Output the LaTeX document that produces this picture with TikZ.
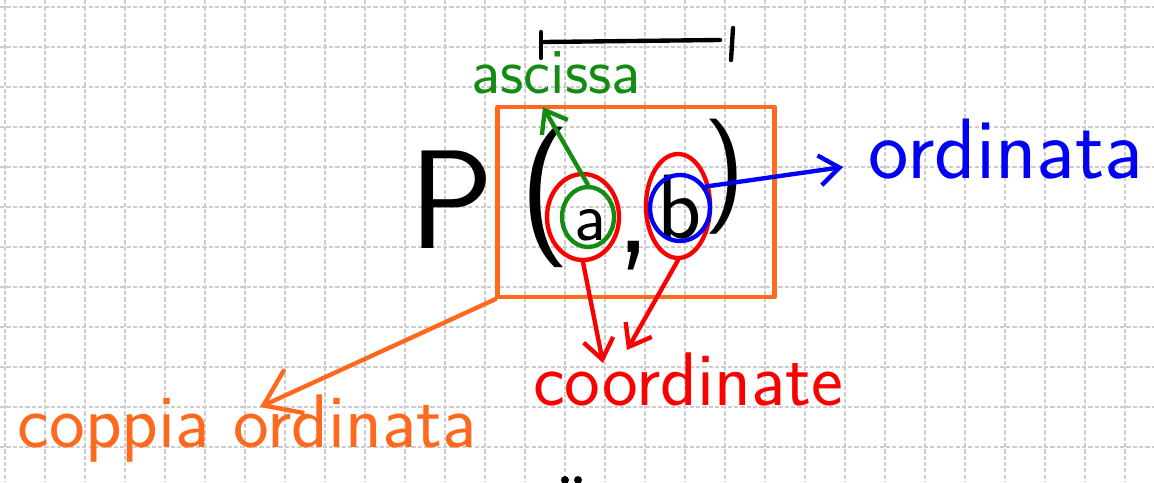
\documentclass[tikz,border=0pt]{standalone}
\usepackage{fontspec}
\usepackage{tikz}
\usetikzlibrary{arrows.meta, shapes.geometric}

\definecolor{penorange}{RGB}{255,105,30}
\definecolor{penred}{RGB}{250,0,0}
\definecolor{pengreen}{RGB}{20,140,20}
\definecolor{penblue}{RGB}{0,0,245}
\definecolor{gridgray}{RGB}{205,205,205}

\begin{document}
\begin{tikzpicture}[x=0.025cm, y=-0.025cm,
		gridline/.style={gridgray, line width=1.4pt, dash pattern=on 3pt off 1.5pt},
		pen/.style={line width=3.1pt, line cap=round, line join=round},
		ring/.style={pen, ellipse, draw, inner sep=0pt},
		label/.style={anchor=base, inner sep=0pt, font=\sffamily},
		tip/.style={-{Straight Barb[length=0.5cm, width=0.75cm]}}]
			% Foglio a quadretti
			\fill[white] (0,0) rectangle (1154,482);
			\useasboundingbox (0,0) rectangle (1154,482);
			\foreach \gx in {5,45,...,1125}
				\draw[gridline] (\gx,0) -- (\gx,482);
			\foreach \gy in {7,47,...,447}
				\draw[gridline] (0,\gy) -- (1154,\gy);

			% Punti di arrivo delle frecce
			\coordinate (asctip) at (543, 107);   % sotto ascissa
			\coordinate (ordtip) at (843, 167);   % verso ordinata
			\coordinate (cootipa) at (603, 363);  % prima freccia rossa
			\coordinate (cootipb) at (627, 350);  % seconda freccia rossa
			\coordinate (coptip) at (260, 407);   % verso coppia ordinata

			% Il punto P(a,b)
			\node[label, font=\sffamily\fontsize{100}{100}\selectfont] (P) at (452, 248) {P};
			\node[inner sep=0pt, font=\sffamily\fontsize{100}{100}\selectfont] (lpar) at (545, 197) {(};
			\node[inner sep=0pt, font=\sffamily\fontsize{82}{82}\selectfont] (rpar) at (725, 177) {)};
			\node[label, font=\sffamily\fontsize{50}{50}\selectfont] (a) at (590, 240) {a};
			\node[label, font=\sffamily\fontsize{100}{100}\selectfont] (comma) at (634, 252) {,};
			\node[label, font=\sffamily\fontsize{65}{65}\selectfont] (b) at (680, 238) {b};

			% Segmento in alto
			\draw[pen] (541, 32) -- (541, 58);
			\draw[pen] (543, 42) -- (720, 40);
			\draw[pen] (733, 28) -- (731, 60);

			% Cerchi attorno alle coordinate
			\node[ring, penred, minimum width=1.8cm, minimum height=2.15cm] (ra) at (583, 217) {};
			\node[ring, pengreen, minimum width=1.3cm, minimum height=1.5cm] (ga) at (588, 217) {};
			\node[ring, penred, minimum width=1.6cm, minimum height=2.6cm] (rb) at (678, 206) {};
			\node[ring, penblue, minimum width=1.5cm, minimum height=1.65cm] (bb) at (680, 208) {};

			% Rettangolo della coppia
			\node[pen, draw=penorange, minimum width=6.925cm, minimum height=4.75cm] (pair) at (636, 202) {};

			% Etichette
			\node[label, pengreen, font=\sffamily\fontsize{46}{46}\selectfont] (ascissa) at (556, 93) {ascissa};
			\node[label, penblue, font=\sffamily\fontsize{61}{61}\selectfont] (ordinata) at (1006, 178) {ordinata};
			\node[label, penred, font=\sffamily\fontsize{54}{54}\selectfont] (coordinate) at (688, 405) {coordinate};
			\node[label, penorange, font=\sffamily\fontsize{54}{54}\selectfont] (coppia) at (247, 447) {coppia ordinata};

			% Frecce
			\draw[pen, tip, pengreen] (ga.north) -- (asctip);
			\draw[pen, tip, penblue] (bb.40) -- (ordtip);
			\draw[pen, tip, penred] (ra.south) -- (cootipa);
			\draw[pen, tip, penred] (rb.south) -- (cootipb);
			\draw[pen, penorange, -{Straight Barb[length=0.85cm, width=1.2cm]}] (pair.south west) -- (coptip);

			% Segni in basso
			\fill (565, 480) circle (4);
			\fill (578, 480) circle (4);

		\end{tikzpicture}
\end{document}
